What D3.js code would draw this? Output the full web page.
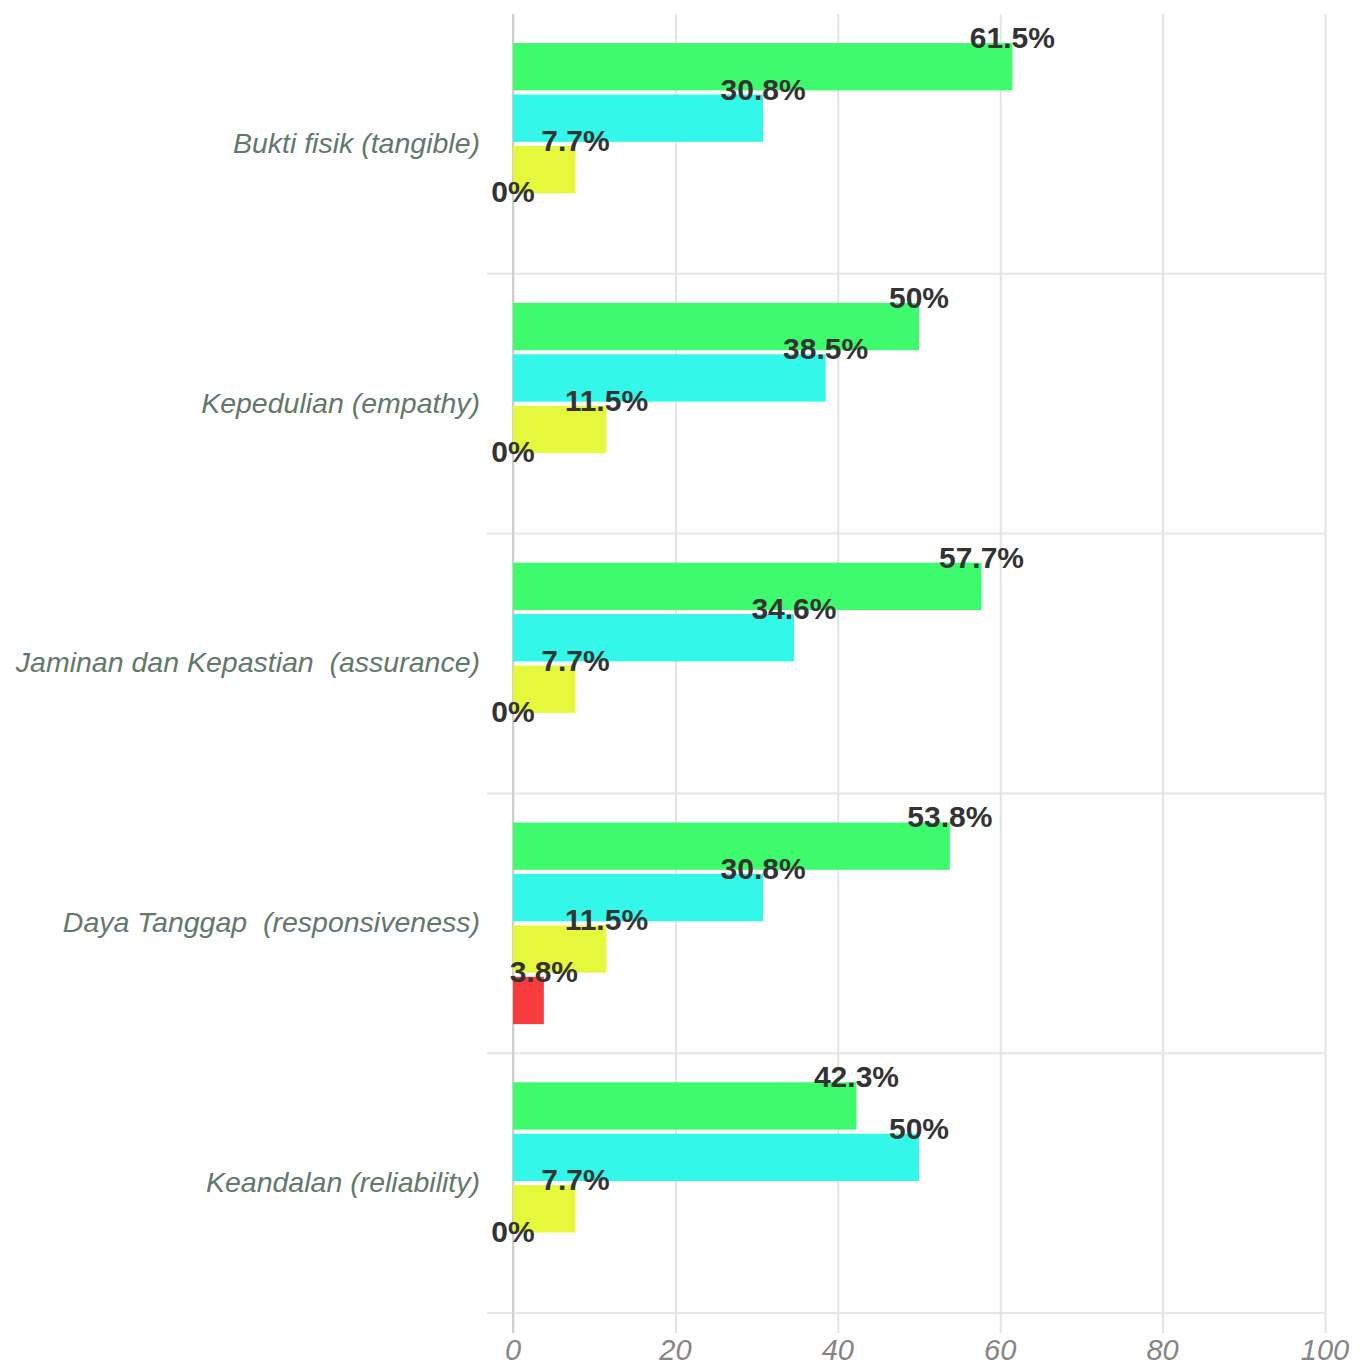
<!DOCTYPE html>
<html>
<head>
<meta charset="utf-8">
<script src="https://cdn.jsdelivr.net/npm/d3@7"></script>
<style>
  html, body { margin: 0; padding: 0; background: #fff; }
  svg { display: block; }
  text { white-space: pre; }
</style>
</head>
<body>
<svg id="chart" width="1364" height="1368"></svg>
<script>
const categories = [
  "Bukti fisik (tangible)",
  "Kepedulian (empathy)",
  "Jaminan dan Kepastian  (assurance)",
  "Daya Tanggap  (responsiveness)",
  "Keandalan (reliability)"
];
const seriesNames = ["Sangat Setuju", "Setuju", "Kurang Setuju", "Tidak Setuju"];
const seriesColors = ["#3dfb6c", "#33f7e8", "#e6f83c", "#f63c3c"];
const sangatSetuju = [61.5, 50, 57.7, 53.8, 42.3];
const setuju = [30.8, 38.5, 34.6, 30.8, 50];
const kurangSetuju = [7.7, 11.5, 7.7, 11.5, 7.7];
const tidakSetuju = [0, 0, 0, 3.8, 0];
const seriesValues = [sangatSetuju, setuju, kurangSetuju, tidakSetuju];
const xTicks = [0, 20, 40, 60, 80, 100];

const W = 1364, H = 1368;
const margin = { top: 14, right: 39, bottom: 55, left: 513 };
const svg = d3.select("#chart");

const x = d3.scaleLinear().domain([0, 100]).range([margin.left, W - margin.right]);
const y0 = d3.scaleBand().domain(categories).range([margin.top, H - margin.bottom]).padding(0);
const bw = y0.bandwidth();
const y1 = d3.scaleBand().domain(seriesNames)
  .range([bw * 0.104, bw * 0.896]).paddingInner(0.08).paddingOuter(0.04);

// vertical gridlines (x axis)
const xAxis = d3.axisBottom(x).tickValues(xTicks).tickSize(-(H - margin.bottom - margin.top) - 20).tickFormat("");
svg.append("g")
  .attr("transform", `translate(0,${H - margin.bottom + 20})`)
  .call(xAxis)
  .call(g => g.select(".domain").remove())
  .call(g => g.selectAll(".tick line").attr("stroke", "#e3e3e3").attr("stroke-width", 2));

// horizontal separators (category ticks)
const boundaries = categories.slice(1).map(c => y0(c)).concat([H - margin.bottom]);
svg.append("g").selectAll("line").data(boundaries).join("line")
  .attr("x1", margin.left - 26).attr("x2", W - margin.right)
  .attr("y1", d => d).attr("y2", d => d)
  .attr("stroke", "#e6e6e6").attr("stroke-width", 2);

// y axis line
svg.append("line")
  .attr("x1", x(0)).attr("x2", x(0))
  .attr("y1", margin.top).attr("y2", H - margin.bottom + 20)
  .attr("stroke", "#cfcfcf").attr("stroke-width", 2);

// x tick labels
svg.append("g").selectAll("text").data(xTicks).join("text")
  .attr("x", d => x(d)).attr("y", H - 8)
  .attr("text-anchor", "middle")
  .attr("font-family", "Liberation Sans, Arial, sans-serif")
  .attr("font-style", "italic")
  .attr("font-size", 29)
  .attr("fill", "#858585")
  .text(d => d);

// category labels
svg.append("g").selectAll("text").data(categories).join("text")
  .attr("x", margin.left - 33)
  .attr("y", d => y0(d) + bw / 2 - 1)
  .attr("dy", "0.35em")
  .attr("text-anchor", "end")
  .attr("font-family", "Liberation Sans, Arial, sans-serif")
  .attr("font-style", "italic")
  .attr("font-size", 28.5)
  .attr("fill", "#62796a")
  .text(d => d);

// bars
const groups = svg.append("g").selectAll("g").data(categories).join("g")
  .attr("transform", d => `translate(0,${y0(d)})`);

groups.each(function(cat, ci) {
  const g = d3.select(this);
  const rows = seriesNames.map((s, si) => ({ s, si, v: seriesValues[si][ci] }));
  g.selectAll("rect").data(rows).join("rect")
    .attr("x", x(0))
    .attr("y", d => y1(d.s))
    .attr("width", d => x(d.v) - x(0))
    .attr("height", y1.bandwidth())
    .attr("fill", d => seriesColors[d.si]);
  g.selectAll("text").data(rows).join("text")
    .attr("x", d => x(d.v))
    .attr("y", d => y1(d.s) + 5)
    .attr("text-anchor", "middle")
    .attr("font-family", "Liberation Sans, Arial, sans-serif")
    .attr("font-weight", "bold")
    .attr("font-size", 30)
    .attr("fill", "#333")
    .text(d => d.v + "%");
});
</script>
</body>
</html>
